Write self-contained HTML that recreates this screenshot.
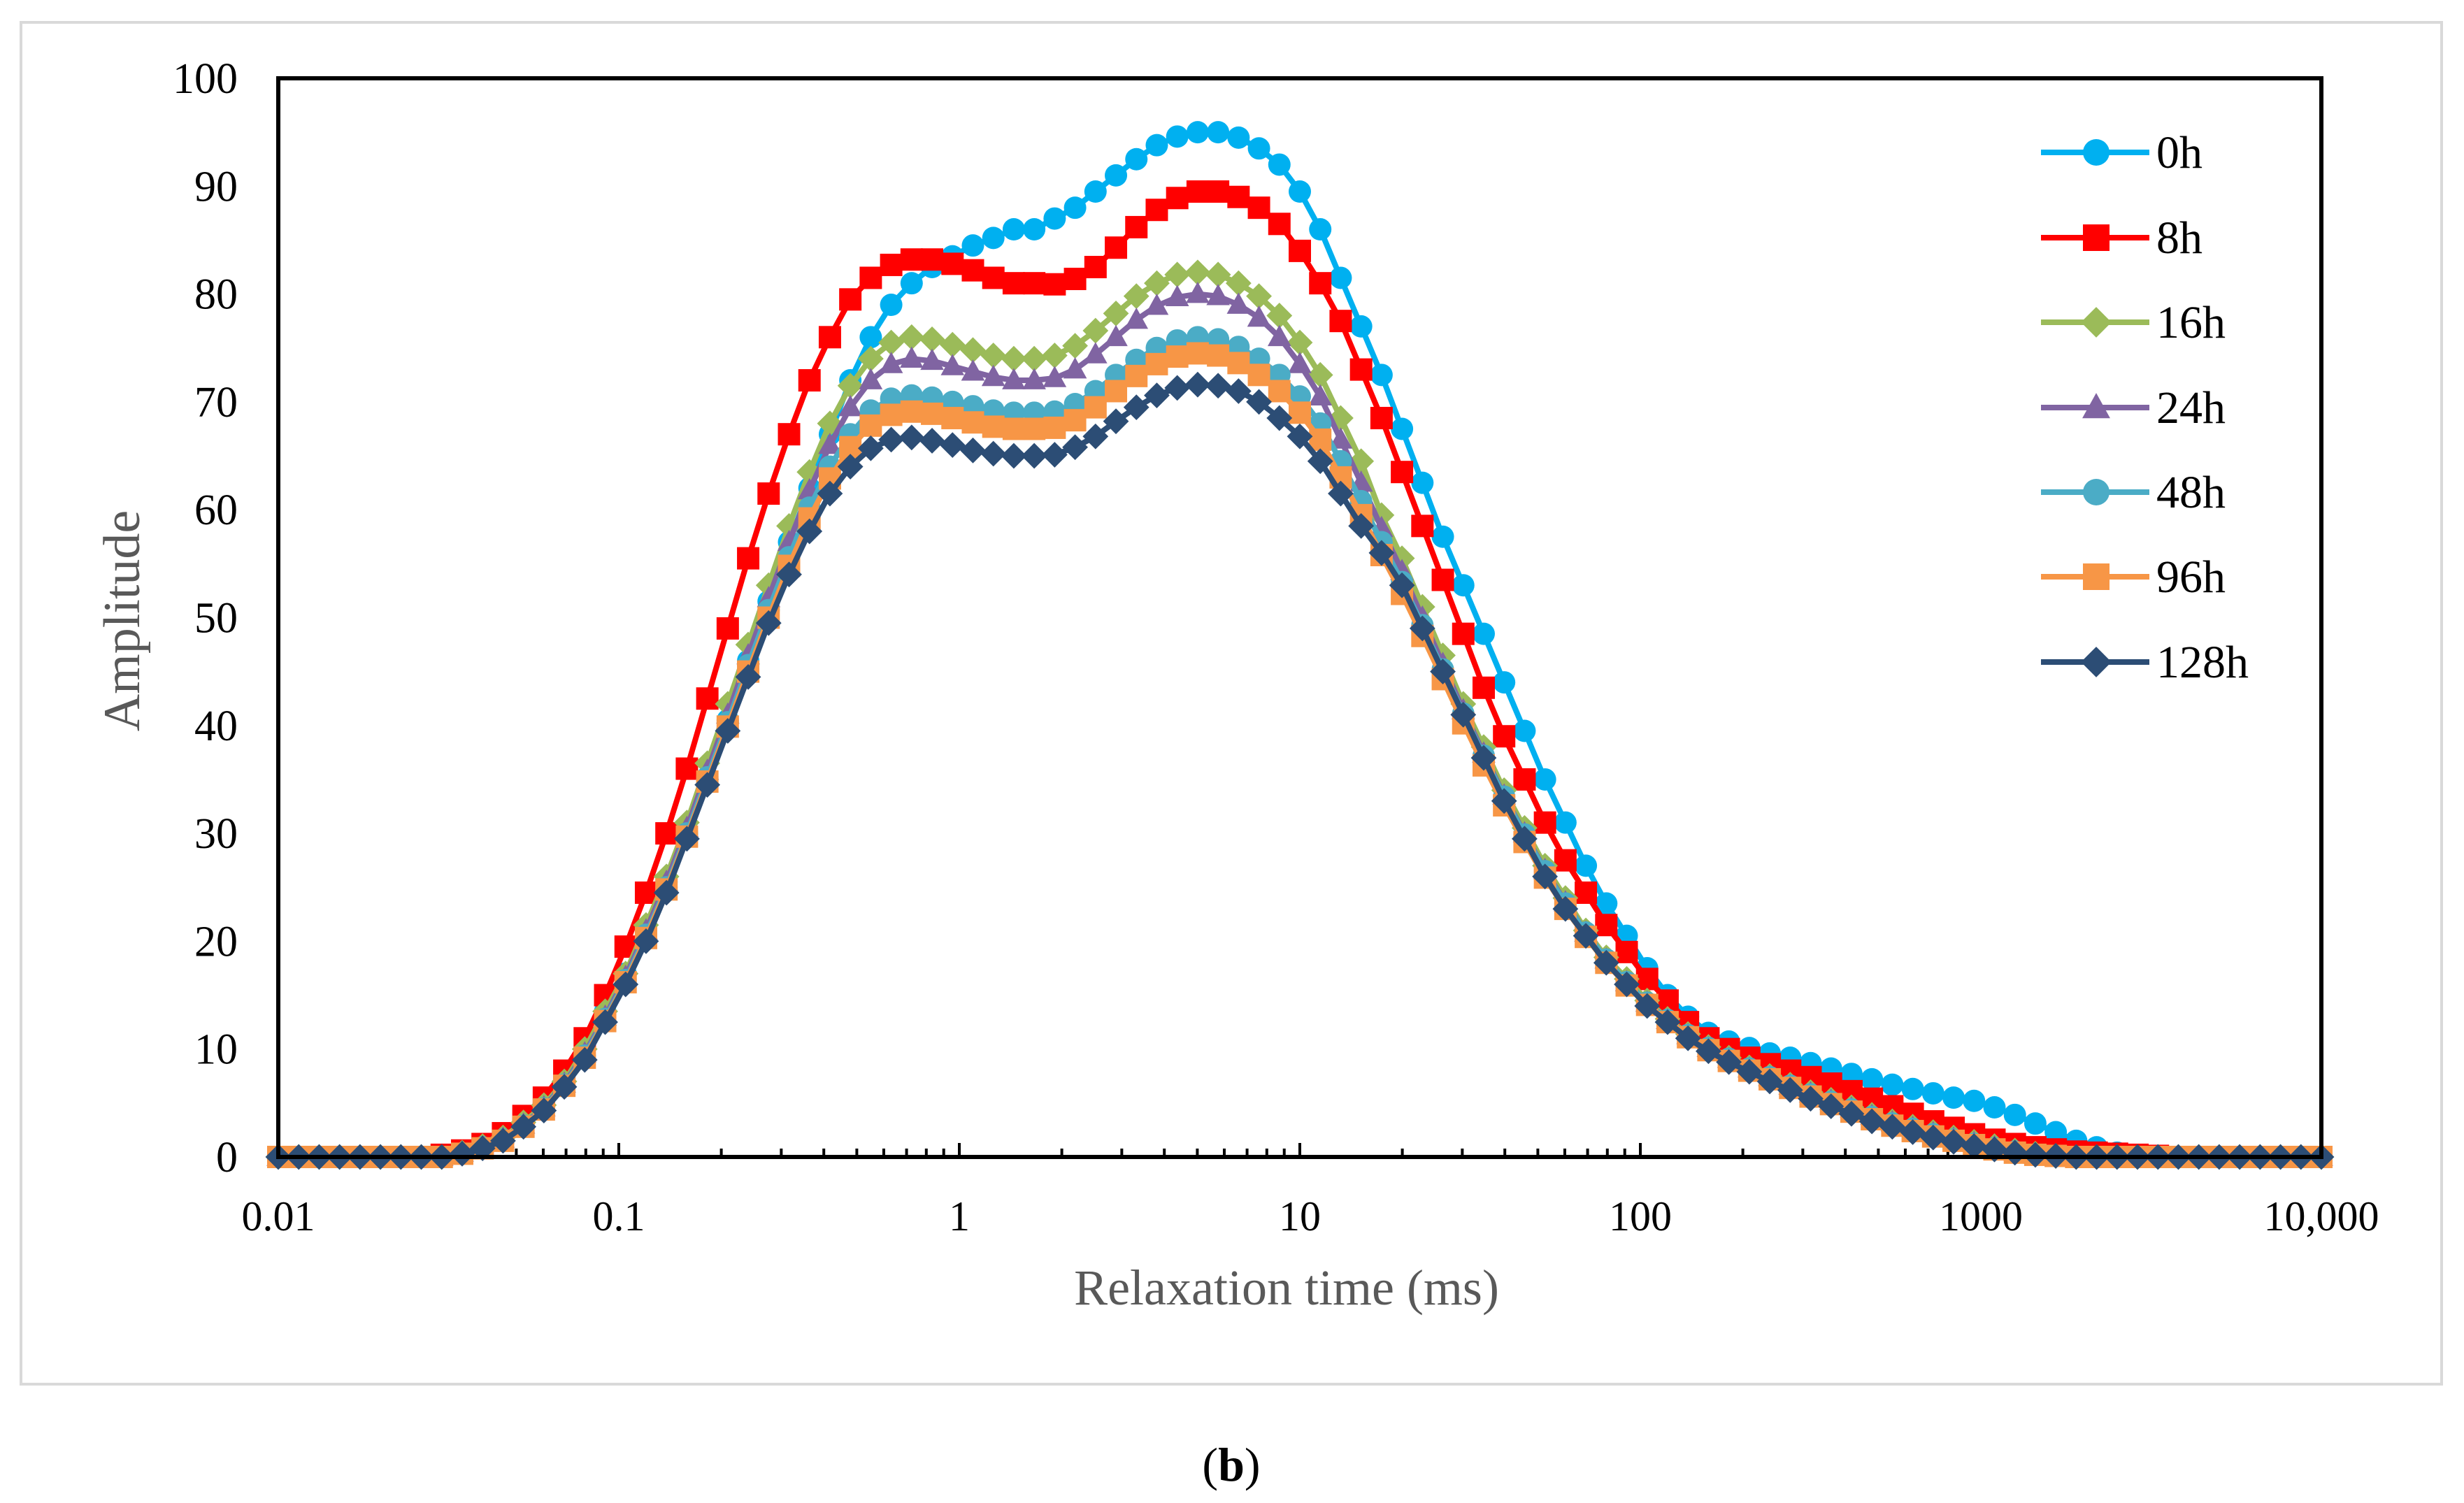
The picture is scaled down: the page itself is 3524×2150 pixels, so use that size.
<!DOCTYPE html>
<html><head><meta charset="utf-8">
<style>
html,body{margin:0;padding:0;background:#fff;}
svg{display:block;font-family:"Liberation Serif",serif;}
</style></head>
<body>
<svg id="chart" width="3524" height="2150" viewBox="0 0 3524 2150" xmlns="http://www.w3.org/2000/svg">
<rect x="30" y="32" width="3462" height="1948" fill="#fff" stroke="#d9d9d9" stroke-width="4"/>
<g id="plot"></g>
<text x="1840" y="1866" font-size="72" fill="#595959" text-anchor="middle">Relaxation time (ms)</text>
<text x="0" y="0" font-size="74" fill="#595959" text-anchor="middle" transform="translate(199,888) rotate(-90)">Amplitude</text>
<text x="1761" y="2118" font-size="68" fill="#000" text-anchor="middle">(<tspan font-weight="bold">b</tspan>)</text>
</svg>
<script>
const xTicks=[0.01,0.1,1,10,100,1000,10000];
const xTickLabels=["0.01","0.1","1","10","100","1000","10,000"];
const yTicks=[0,10,20,30,40,50,60,70,80,90,100];
const seriesNames=["0h","8h","16h","24h","48h","96h","128h"];
const s0h=[0,0,0,0,0,0,0,0,0.2,0.5,1,2,3.5,5,7.5,10,13.5,17,21,25.5,30,35,40.5,46,51.5,57,62,67,72,76,79,81,82.5,83.5,84.5,85.2,86,86,87,88,89.5,91,92.5,93.8,94.6,95,95,94.5,93.5,92,89.5,86,81.5,77,72.5,67.5,62.5,57.5,53,48.5,44,39.5,35,31,27,23.5,20.5,17.5,15,13,11.5,10.7,10.1,9.6,9.2,8.7,8.2,7.7,7.2,6.7,6.3,5.9,5.5,5.2,4.6,3.9,3.1,2.3,1.5,0.9,0.4,0.1,0,0,0,0,0,0,0,0,0];
const s8h=[0,0,0,0,0,0,0,0,0.2,0.6,1.2,2.2,3.8,5.5,8,11,15,19.5,24.5,30,36,42.5,49,55.5,61.5,67,72,76,79.5,81.5,82.7,83.2,83.2,82.8,82.2,81.5,81,81,80.9,81.4,82.5,84.3,86.2,87.8,88.9,89.5,89.5,89,88,86.5,84,81,77.5,73,68.5,63.5,58.5,53.5,48.5,43.5,39,35,31,27.5,24.5,21.5,19,16.5,14.5,12.5,11,10,9.2,8.6,8,7.4,6.8,6.1,5.4,4.7,4,3.3,2.7,2.1,1.6,1.2,0.9,0.7,0.5,0.4,0.3,0.2,0.1,0,0,0,0,0,0,0,0];
const s16h=[0,0,0,0,0,0,0,0,0,0.4,1,1.8,3.2,4.8,7,10,13.5,17,21.5,26,31,36.5,42,47.5,53,58.5,63.5,68,71.5,74,75.5,76,75.8,75.3,74.8,74.3,74,74,74.3,75.2,76.6,78.2,79.8,81,81.8,82,81.8,81,79.8,78,75.5,72.5,68.5,64.5,59.5,55.5,51,46.5,42,38,34,30.5,27,24,21,18.5,16.5,14.5,12.8,11.4,10.2,9.2,8.3,7.5,6.7,6,5.3,4.6,3.9,3.3,2.8,2.3,1.8,1.4,1,0.6,0.3,0.1,0,0,0,0,0,0,0,0,0,0,0,0,0];
const s24h=[0,0,0,0,0,0,0,0,0,0.4,0.9,1.7,3,4.6,6.8,9.6,13,16.7,21,25.5,30.5,35.8,41,46.5,51.8,57,61.8,66,69.5,72,73.5,74,73.8,73.3,72.8,72.3,72,72,72.2,73,74.4,76,77.6,78.9,79.7,80,79.8,79,77.8,76,73.5,70.5,66.5,62.5,58.3,54.3,50,45.7,41.4,37.4,33.5,30,26.6,23.6,20.8,18.3,16.2,14.3,12.7,11.3,10.1,9.1,8.2,7.4,6.6,5.9,5.2,4.5,3.8,3.2,2.7,2.2,1.7,1.3,0.9,0.5,0.2,0.1,0,0,0,0,0,0,0,0,0,0,0,0,0];
const s48h=[0,0,0,0,0,0,0,0,0,0.3,0.9,1.6,2.9,4.5,6.7,9.4,12.8,16.4,20.6,25,30,35.2,40.3,45.6,50.7,55.6,60.2,64,67,69.2,70.3,70.6,70.4,70,69.6,69.2,69,69,69.1,69.8,71,72.5,73.9,75,75.7,76,75.8,75.1,74,72.5,70.5,68,64.5,60.8,57,53.3,49.3,45.2,41.1,37.2,33.4,29.9,26.5,23.5,20.8,18.3,16.2,14.3,12.7,11.3,10.1,9.1,8.2,7.4,6.6,5.8,5.1,4.4,3.7,3.1,2.6,2.1,1.6,1.2,0.8,0.5,0.2,0.1,0,0,0,0,0,0,0,0,0,0,0,0,0];
const s96h=[0,0,0,0,0,0,0,0,0,0.3,0.8,1.5,2.8,4.4,6.6,9.2,12.6,16.2,20.3,24.8,29.7,34.8,39.9,45,50,54.8,59.2,62.9,65.8,67.8,68.8,69.1,68.9,68.5,68.1,67.7,67.5,67.5,67.6,68.3,69.5,71,72.4,73.5,74.2,74.5,74.3,73.6,72.5,71,69,66.5,63,59.5,55.8,52.2,48.3,44.3,40.2,36.3,32.6,29.2,25.9,23,20.4,18,15.9,14.1,12.5,11.1,9.9,8.9,8,7.2,6.4,5.6,4.9,4.2,3.5,2.9,2.4,1.9,1.5,1.1,0.7,0.4,0.2,0.1,0,0,0,0,0,0,0,0,0,0,0,0,0];
const s128h=[0,0,0,0,0,0,0,0,0,0.3,0.8,1.5,2.8,4.3,6.5,9,12.5,16,20,24.5,29.5,34.5,39.5,44.5,49.5,54,58,61.5,64,65.7,66.5,66.7,66.4,66,65.5,65.2,65,65,65.1,65.8,66.8,68.2,69.5,70.6,71.3,71.6,71.5,71,70,68.5,66.8,64.5,61.5,58.5,56,53,49,45,41,37,33,29.5,26,23,20.5,18,16,14,12.5,11,9.8,8.8,7.9,7,6.2,5.4,4.7,4,3.3,2.8,2.3,1.8,1.4,1,0.7,0.4,0.2,0.1,0,0,0,0,0,0,0,0,0,0,0,0,0];
const allSeries=[s0h,s8h,s16h,s24h,s48h,s96h,s128h];
const colors=["#00B0F0","#FF0000","#9BBB59","#8064A2","#4BACC6","#F79646","#2C4D75"];
const shapes=["circle","square","diamond","triangle","circle","square","diamond"];

const NS="http://www.w3.org/2000/svg";
const L=398,R=3320,T=112,B=1655;
const xMinLog=-2,xMaxLog=4;
function xs(v){return L+(Math.log10(v)-xMinLog)/(xMaxLog-xMinLog)*(R-L);}
function ys(v){return B-v/100*(B-T);}
function xAt(i,n){return xs(Math.pow(10,xMinLog+(xMaxLog-xMinLog)*i/(n-1)));}
const g=document.getElementById('plot');
function mk(tag,attrs,parent){const e=document.createElementNS(NS,tag);for(const k in attrs)e.setAttribute(k,attrs[k]);(parent||g).appendChild(e);return e;}

yTicks.forEach(v=>{
  const t=mk('text',{x:340,y:ys(v)+21,'font-size':62,'text-anchor':'end',fill:'#000'});
  
  
  t.textContent=v;
});
xTicks.forEach((v,k)=>{
  const t=mk('text',{x:xs(v),y:1760,'font-size':60,'text-anchor':'middle',fill:'#000'});
  
  
  t.textContent=xTickLabels[k];
  if(k<xTicks.length-1){for(let m=2;m<=9;m++){
    const tk=mk('line',{x1:xs(v*m),x2:xs(v*m),y1:B,y2:B-12,stroke:'#000','stroke-width':4});
    
    
  }}
  const mt=mk('line',{x1:xs(v),x2:xs(v),y1:B,y2:B-20,stroke:'#000','stroke-width':4});
  
  
});

function marker(shape,cx,cy,size,color,parent){
  const h=size/2;let e;
  if(shape==='circle')e=mk('circle',{cx:cx,cy:cy,r:h,fill:color},parent);
  else if(shape==='square')e=mk('rect',{x:cx-h,y:cy-h,width:size,height:size,fill:color},parent);
  else if(shape==='diamond')e=mk('polygon',{points:`${cx},${cy-h*1.15} ${cx+h*1.15},${cy} ${cx},${cy+h*1.15} ${cx-h*1.15},${cy}`,fill:color},parent);
  else e=mk('polygon',{points:`${cx},${cy-h*1.1} ${cx+h*1.05},${cy+h*0.8} ${cx-h*1.05},${cy+h*0.8}`,fill:color},parent);
  return e;
}

allSeries.forEach((data,si)=>{
  const sg=mk('g',{});
  
  
  const n=data.length;
  const pts=data.map((v,i)=>xAt(i,n).toFixed(1)+','+ys(v).toFixed(1)).join(' ');
  const pl=mk('polyline',{points:pts,fill:'none',stroke:colors[si],'stroke-width':8,'stroke-linejoin':'round'},sg);
  
  
  data.forEach((v,i)=>{
    const m=marker(shapes[si],xAt(i,n),ys(v),32,colors[si],sg);
    
    
  });
});

const box=mk('rect',{x:L,y:T,width:R-L,height:B-T,fill:'none',stroke:'#000','stroke-width':6});



const legY=[218,340,461,583,704,825,947];
seriesNames.forEach((nm,si)=>{
  const lg=mk('g',{});
  
  
  const ln=mk('line',{x1:2919,x2:3074,y1:legY[si],y2:legY[si],stroke:colors[si],'stroke-width':8},lg);
  
  
  const mm=marker(shapes[si],2998,legY[si],38,colors[si],lg);
  
  
  const tx=mk('text',{x:3084,y:legY[si]+22,'font-size':66,fill:'#000'},lg);
  
  
  tx.textContent=nm;
});
</script>
</body></html>
